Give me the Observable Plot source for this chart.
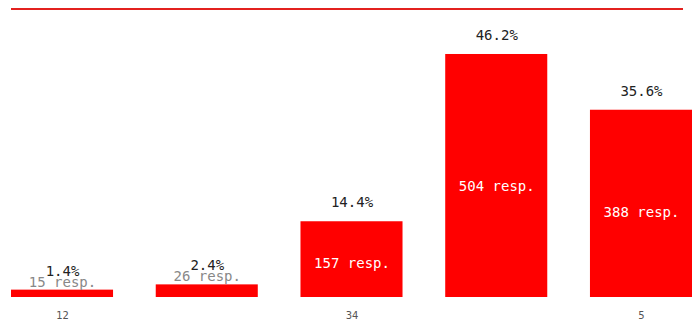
<!DOCTYPE html>
<html>
<head>
<meta charset="utf-8">
<script src="https://cdn.jsdelivr.net/npm/d3@7"></script>
<script src="https://cdn.jsdelivr.net/npm/@observablehq/plot@0.6"></script>
<style>
  html, body { margin: 0; padding: 0; background: #fff; }
  #wrap { position: relative; width: 694px; height: 336px; }
  #topline { position: absolute; left: 11px; top: 8px; width: 672px; height: 2px; background: #e3211f; }
</style>
</head>
<body>
<div id="wrap"><div id="topline"></div></div>
<script>
const categories = ["1", "2", "3", "4", "5"];
const percents = [1.4, 2.4, 14.4, 46.2, 35.6];
const responses = [15, 26, 157, 504, 388];
const tickLabels = ["12", "", "34", "", "5"];

const data = categories.map((c, i) => ({cat: c, pct: percents[i], resp: responses[i], small: percents[i] < 5}));
const labelOf = Object.fromEntries(categories.map((c, i) => [c, tickLabels[i]]));
const mono = "'DejaVu Sans Mono', monospace";

const chart = Plot.plot({
  width: 694,
  height: 336,
  marginLeft: 11,
  marginRight: 2,
  marginTop: 34,
  marginBottom: 39,
  style: {background: "transparent", overflow: "visible"},
  x: {domain: categories, paddingInner: 0.295, paddingOuter: 0, round: false, label: null},
  y: {domain: [0, 50], axis: null},
  marks: [
    Plot.barY(data, {x: "cat", y: "pct", fill: "#ff0000"}),
    Plot.text(data, {x: "cat", y: "pct", text: d => d.pct.toFixed(1) + "%", dy: -19, fill: "#222", fontSize: 14, fontFamily: mono}),
    Plot.text(data.filter(d => d.small), {x: "cat", y: "pct", text: d => d.resp + " resp.", dy: -8, fill: "#888", fontSize: 14, fontFamily: mono}),
    Plot.text(data.filter(d => !d.small), {x: "cat", y: d => d.pct * 0.455, text: d => d.resp + " resp.", fill: "#fff", fontSize: 14, fontFamily: mono}),
    Plot.axisX({tickSize: 0, tickPadding: 14, tickFormat: c => labelOf[c], fontSize: 10, fill: "#555", label: null, fontFamily: "'DejaVu Sans', sans-serif"})
  ]
});
document.getElementById("wrap").appendChild(chart);
</script>
</body>
</html>
